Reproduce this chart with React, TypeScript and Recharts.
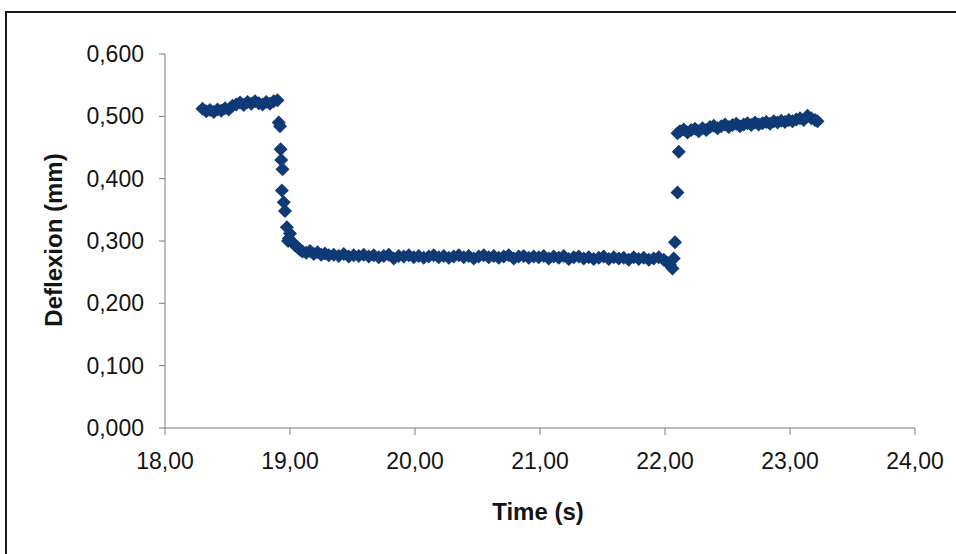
import React from 'react'
import { ScatterChart, Scatter, XAxis, YAxis, Label } from 'recharts'

const MARKER = '#103a75'
const FONT = '"Liberation Sans", Arial, sans-serif'

const X_TICKS = [18, 19, 20, 21, 22, 23, 24]
const Y_TICKS = [0, 0.1, 0.2, 0.3, 0.4, 0.5, 0.6]

// time (s) of each reading
const TIME = [
  // first plateau
  18.30, 18.33, 18.36, 18.39, 18.42, 18.45, 18.48, 18.51, 18.54, 18.57, 18.60,
  18.63, 18.66, 18.69, 18.72, 18.75, 18.78, 18.81, 18.84, 18.87, 18.90,
  // drop
  18.91, 18.92, 18.925, 18.93, 18.94, 18.935, 18.95, 18.96, 18.975, 18.985,
  18.99, 19.00, 19.02, 19.04, 19.06, 19.08, 19.10, 19.13, 19.16, 19.19, 19.22,
  19.25, 19.28, 19.31,
  // low plateau
  19.35, 19.39, 19.43, 19.47, 19.51, 19.55, 19.59, 19.63, 19.67, 19.71, 19.75,
  19.79, 19.83, 19.87, 19.91, 19.95, 19.99, 20.03, 20.07, 20.11, 20.15, 20.19,
  20.23, 20.27, 20.31, 20.35, 20.39, 20.43, 20.47, 20.51, 20.55, 20.59, 20.63,
  20.67, 20.71, 20.75, 20.79, 20.83, 20.87, 20.91, 20.95, 20.99, 21.03, 21.07,
  21.11, 21.15, 21.19, 21.23, 21.27, 21.31, 21.35, 21.39, 21.43, 21.47, 21.51,
  21.55, 21.59, 21.63, 21.67, 21.71, 21.75, 21.79, 21.83, 21.87, 21.91, 21.95,
  21.99, 22.02, 22.04, 22.06,
  // rise
  22.07, 22.08, 22.10, 22.11, 22.10,
  // upper plateau
  22.12, 22.15, 22.18, 22.21, 22.24, 22.27, 22.30, 22.33, 22.36, 22.39, 22.42,
  22.45, 22.48, 22.51, 22.54, 22.57, 22.60, 22.63, 22.66, 22.69, 22.72, 22.75,
  22.78, 22.81, 22.84, 22.87, 22.90, 22.93, 22.96, 22.99, 23.02, 23.05, 23.08,
  23.11, 23.14, 23.17, 23.20, 23.22,
]

// deflexion (mm) of each reading
const DEFLEXION = [
  // first plateau
  0.512, 0.508, 0.510, 0.507, 0.511, 0.509, 0.513, 0.511, 0.517, 0.519, 0.522,
  0.518, 0.523, 0.520, 0.524, 0.521, 0.519, 0.523, 0.520, 0.524, 0.526,
  // drop
  0.490, 0.484, 0.447, 0.430, 0.415, 0.381, 0.362, 0.348, 0.322, 0.300,
  0.304, 0.312, 0.298, 0.293, 0.290, 0.286, 0.283, 0.281, 0.284, 0.279, 0.282,
  0.278, 0.280, 0.277,
  // low plateau
  0.278, 0.276, 0.279, 0.275, 0.277, 0.276, 0.278, 0.275, 0.277, 0.274, 0.276,
  0.278, 0.272, 0.276, 0.275, 0.277, 0.274, 0.276, 0.273, 0.275, 0.277, 0.274,
  0.276, 0.273, 0.275, 0.277, 0.274, 0.276, 0.272, 0.275, 0.277, 0.274, 0.276,
  0.273, 0.275, 0.277, 0.272, 0.275, 0.276, 0.273, 0.275, 0.274, 0.276, 0.272,
  0.275, 0.273, 0.276, 0.271, 0.274, 0.275, 0.272, 0.274, 0.271, 0.273, 0.275,
  0.271, 0.274, 0.272, 0.273, 0.270, 0.274, 0.271, 0.273, 0.270, 0.272, 0.274,
  0.270, 0.265, 0.262, 0.256,
  // rise
  0.272, 0.298, 0.378, 0.443, 0.473,
  // upper plateau
  0.476, 0.479, 0.474, 0.478, 0.480, 0.476, 0.481, 0.478, 0.483, 0.485, 0.481,
  0.484, 0.487, 0.483, 0.486, 0.488, 0.484, 0.487, 0.489, 0.486, 0.490, 0.487,
  0.489, 0.491, 0.488, 0.492, 0.490, 0.493, 0.491, 0.494, 0.492, 0.495, 0.497,
  0.494, 0.501, 0.497, 0.494, 0.492,
]

const data = TIME.map((t, i) => ({ t, v: DEFLEXION[i] }))

const Diamond = (props: any) => {
  const { cx, cy } = props
  const r = 7
  return <path d={`M${cx},${cy - r}L${cx + r},${cy}L${cx},${cy + r}L${cx - r},${cy}Z`} fill={MARKER} />
}

const tickStyle = { fontSize: 23, fill: '#141414', fontFamily: FONT }

export default function App() {
  return (
    <div style={{ position: 'absolute', left: 0, top: 0, width: 956, height: 554, overflow: 'hidden', background: '#fff' }}>
      <div
        style={{
          position: 'absolute', left: 5, top: 11, width: 1000, height: 600,
          borderTop: '2px solid #1a1a1a', borderLeft: '2px solid #1a1a1a',
        }}
      />
      <div style={{ position: 'absolute', left: 0, top: 0 }}>
        <ScatterChart width={956} height={554} margin={{ top: 54, right: 41, bottom: 0, left: 0 }}>
          <XAxis
            type="number"
            dataKey="t"
            domain={[18, 24]}
            ticks={X_TICKS}
            tickFormatter={(v: number) => v.toFixed(2).replace('.', ',')}
            stroke="#7a7a7a"
            tick={tickStyle}
            tickSize={7}
            tickMargin={18}
            height={126}
            allowDataOverflow
          >
            <Label
              content={() => (
                <text x={538} y={520} textAnchor="middle" fontFamily={FONT} fontSize={24} fontWeight="bold" fill="#141414">
                  Time (s)
                </text>
              )}
            />
          </XAxis>
          <YAxis
            type="number"
            dataKey="v"
            domain={[0, 0.6]}
            ticks={Y_TICKS}
            tickFormatter={(v: number) => v.toFixed(3).replace('.', ',')}
            stroke="#7a7a7a"
            tick={tickStyle}
            tickSize={6}
            tickMargin={15}
            width={165}
            allowDataOverflow
          >
            <Label
              content={() => (
                <text
                  x={62}
                  y={240}
                  transform="rotate(-90 62 240)"
                  textAnchor="middle"
                  fontFamily={FONT}
                  fontSize={24}
                  fontWeight="bold"
                  fill="#141414"
                >
                  Deflexion (mm)
                </text>
              )}
            />
          </YAxis>
          <Scatter data={data} shape={Diamond} isAnimationActive={false} />
        </ScatterChart>
      </div>
    </div>
  )
}
